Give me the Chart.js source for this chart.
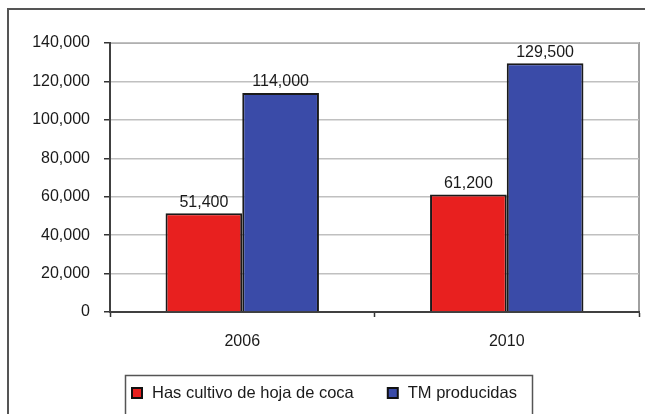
<!DOCTYPE html>
<html><head><meta charset="utf-8">
<script src="https://cdn.jsdelivr.net/npm/chart.js@4/dist/chart.umd.min.js"></script>
<style>html,body{margin:0;padding:0;background:#fff}canvas{display:block}</style>
</head><body>
<canvas id="c" width="645" height="414"></canvas>
<script>
const categories = ['2006', '2010'];
const seriesNames = ['Has cultivo de hoja de coca', 'TM producidas'];
const hectares = [51400, 61200];
const tonnes = [114000, 129500];
const yTickValues = [0, 20000, 40000, 60000, 80000, 100000, 120000, 140000];
const seriesColors = ['#E8201F', '#3A4BA8'];

const FONT = '"Liberation Sans", Arial, sans-serif';
const fmt = v => v.toLocaleString('en-US');

const framePlugin = {
  id: 'frame',
  beforeDraw(chart) {
    const ctx = chart.ctx, a = chart.chartArea;
    ctx.save();
    ctx.fillStyle = '#fff';
    ctx.fillRect(0, 0, chart.width, chart.height);
    ctx.strokeStyle = '#555';
    ctx.lineWidth = 2;
    ctx.beginPath();
    ctx.moveTo(8, 414); ctx.lineTo(8, 9); ctx.lineTo(645, 9);
    ctx.stroke();
    ctx.strokeStyle = '#a0a0a0';
    ctx.lineWidth = 2;
    ctx.strokeRect(a.left, a.top, a.right - a.left, a.bottom - a.top);
    ctx.restore();
  },
  afterDatasetsDraw(chart) {
    const ctx = chart.ctx;
    ctx.save();
    ctx.font = '16px ' + FONT;
    ctx.fillStyle = '#1a1a1a';
    ctx.textAlign = 'center';
    ctx.textBaseline = 'bottom';
    chart.data.datasets.forEach((ds, i) => {
      chart.getDatasetMeta(i).data.forEach((el, j) => {
        ctx.fillText(fmt(ds.data[j]), el.x, el.y - 3);
      });
    });
    ctx.restore();
  },
  afterDraw(chart) {
    const ctx = chart.ctx;
    ctx.save();
    ctx.strokeStyle = '#555';
    ctx.lineWidth = 1.5;
    ctx.strokeRect(125.5, 375.5, 407, 60);
    ctx.font = '16.5px ' + FONT;
    ctx.textBaseline = 'middle';
    ctx.textAlign = 'left';
    let x = 132;
    const y = 393;
    chart.data.datasets.forEach((ds) => {
      ctx.fillStyle = ds.backgroundColor;
      ctx.fillRect(x, y - 5, 10, 10);
      ctx.strokeStyle = '#111';
      ctx.lineWidth = 2;
      ctx.strokeRect(x, y - 5, 10, 10);
      ctx.fillStyle = '#1a1a1a';
      ctx.fillText(ds.label, x + 20, y);
      x += 20 + ctx.measureText(ds.label).width + 34;
    });
    ctx.restore();
  }
};

new Chart(document.getElementById('c'), {
  type: 'bar',
  data: {
    labels: categories,
    datasets: [
      { label: seriesNames[0], data: hectares, backgroundColor: seriesColors[0], borderColor: '#1a1a1a', borderWidth: 2 },
      { label: seriesNames[1], data: tonnes, backgroundColor: seriesColors[1], borderColor: '#1a1a1a', borderWidth: 2 }
    ]
  },
  options: {
    responsive: false,
    animation: false,
    devicePixelRatio: 1,
    layout: { padding: { left: 0, right: 6, top: 43, bottom: 0 } },
    datasets: { bar: { categoryPercentage: 0.58, barPercentage: 1.0 } },
    plugins: { legend: { display: false }, tooltip: { enabled: false } },
    scales: {
      x: {
        offset: true,
        grid: { offset: true, drawOnChartArea: false, drawTicks: true, tickLength: 5, tickColor: '#333', tickWidth: 1.5 },
        border: { color: '#404040', width: 2 },
        ticks: { color: '#1a1a1a', font: { family: FONT, size: 16 }, padding: 15, maxRotation: 0 },
        afterFit(s) { s.height = 414 - 312; }
      },
      y: {
        min: 0, max: 140000,
        afterBuildTicks(s) { s.ticks = yTickValues.map(v => ({ value: v })); },
        grid: { color: '#c0c0c0', lineWidth: 1.5, tickColor: '#333', tickLength: 6, tickWidth: 1.5 },
        border: { color: '#404040', width: 2 },
        ticks: { color: '#1a1a1a', font: { family: FONT, size: 16 }, padding: 14, callback: v => fmt(v) },
        afterFit(s) { s.width = 110; }
      }
    }
  },
  plugins: [framePlugin]
});
</script>
</body></html>
